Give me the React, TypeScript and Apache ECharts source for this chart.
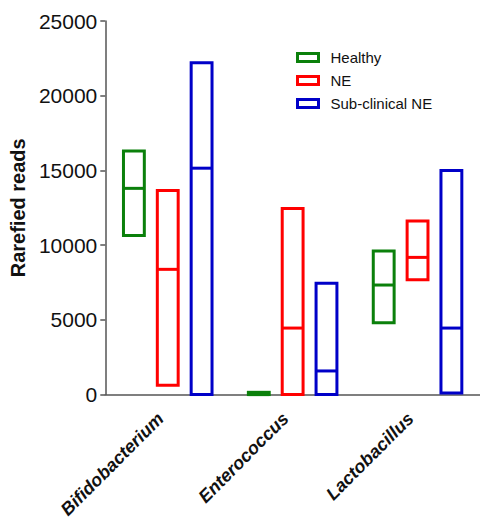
import React, { useEffect, useRef } from "react";
import * as echarts from "echarts";

const categories = ["Bifidobacterium", "Enterococcus", "Lactobacillus"];
const groups = ["Healthy", "NE", "Sub-clinical NE"];
const colors = ["#0b800b", "#ff0000", "#0000c8"];
// [min, median, max] per category
const healthy = [
  [10650, 13800, 16300],
  [0, 0, 150],
  [4800, 7330, 9600],
];
const ne = [
  [620, 8380, 13650],
  [0, 4450, 12450],
  [7690, 9180, 11620],
];
const subclinical = [
  [0, 15150, 22200],
  [0, 1580, 7450],
  [100, 4450, 15000],
];
const yTicks = { min: 0, max: 25000, interval: 5000 };

const seriesData = [healthy, ne, subclinical];
const offsets = [-0.271, 0, 0.271];
const widthFrac = 0.167;

export default function App() {
  const ref = useRef<HTMLDivElement>(null);
  useEffect(() => {
    if (!ref.current) return;
    const chart = echarts.init(ref.current, null, { renderer: "svg" });
    const series = groups.map((g, gi) => ({
      type: "custom",
      name: g,
      itemStyle: { color: "#fff", borderColor: colors[gi], borderWidth: 3 },
      data: seriesData[gi].map((d, ci) => [ci, d[0], d[1], d[2]]),
      encode: { x: 0, y: [1, 2, 3] },
      renderItem: (params: any, api: any) => {
        const ci = api.value(0);
        const band = api.size([1, 0])[0];
        const cx = api.coord([ci, 0])[0] + offsets[gi] * band;
        const w = widthFrac * band;
        const yMin = api.coord([ci, api.value(1)])[1];
        const yMed = api.coord([ci, api.value(2)])[1];
        const yMax = api.coord([ci, api.value(3)])[1];
        return {
          type: "group",
          children: [
            {
              type: "rect",
              shape: { x: cx - w / 2, y: yMax, width: w, height: yMin - yMax },
              style: { fill: "none", stroke: colors[gi], lineWidth: 3 },
            },
            {
              type: "line",
              shape: { x1: cx - w / 2, y1: yMed, x2: cx + w / 2, y2: yMed },
              style: { stroke: colors[gi], lineWidth: 3 },
            },
          ],
        };
      },
    }));
    chart.setOption({
      animation: false,
      backgroundColor: "#fff",
      grid: { left: 105, right: -1, top: 21, bottom: 125 },
      legend: {
        orient: "vertical",
        left: 291,
        top: 45,
        itemWidth: 21,
        itemHeight: 8,
        itemGap: 8,
        textStyle: {
          fontFamily: "Liberation Sans, Arial",
          fontSize: 15,
          color: "#111",
          padding: [0, 0, 0, 7],
        },
        data: groups.map((g, gi) => ({
          name: g,
          icon: "rect",
          itemStyle: { color: "#fff", borderColor: colors[gi], borderWidth: 3 },
        })),
      },
      xAxis: {
        type: "category",
        data: categories,
        axisLine: { lineStyle: { color: "#555", width: 1.5 } },
        axisTick: { alignWithLabel: true, length: 5, lineStyle: { color: "#555", width: 1.5 } },
        axisLabel: {
          rotate: 45,
          margin: 14,
          padding: [0, 10, 0, 0],
          fontFamily: "Liberation Sans, Arial",
          fontSize: 18,
          fontWeight: "bold",
          fontStyle: "italic",
          color: "#111",
        },
      },
      yAxis: {
        type: "value",
        min: yTicks.min,
        max: yTicks.max,
        interval: yTicks.interval,
        name: "Rarefied reads",
        nameLocation: "middle",
        nameRotate: 90,
        nameGap: 76,
        nameTextStyle: {
          fontFamily: "Liberation Sans, Arial",
          fontSize: 20,
          fontWeight: "bold",
          color: "#111",
        },
        axisLine: { show: true, lineStyle: { color: "#555", width: 1.5 } },
        axisTick: { show: true, length: 5, lineStyle: { color: "#555", width: 1.5 } },
        splitLine: { show: false },
        axisLabel: {
          margin: 8,
          formatter: (v: number) => String(v),
          fontFamily: "Liberation Sans, Arial",
          fontSize: 21,
          color: "#111",
        },
      },
      series,
    });
    return () => chart.dispose();
  }, []);
  return (
    <div
      ref={ref}
      style={{ position: "absolute", left: 0, top: 0, width: 480, height: 521 }}
    />
  );
}
